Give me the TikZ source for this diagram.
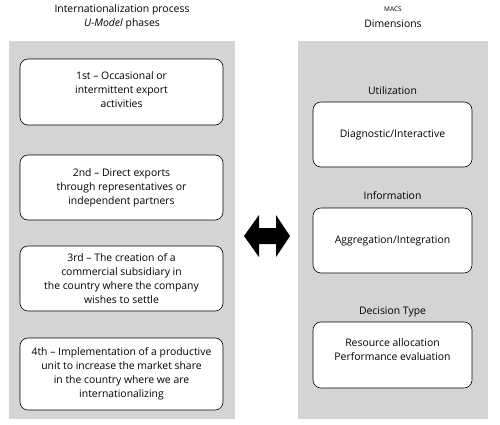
\documentclass[tikz,border=0pt]{standalone}
\usepackage{fontspec}
\setmainfont{Open Sans}
\begin{document}
\begin{tikzpicture}[x=1pt,y=-1pt,
  panel/.style={fill=black!17,draw=none},
  phase/.style={draw=black,line width=0.6pt,fill=white,rounded corners=8pt},
  txt/.style={align=center,font=\fontsize{10.4}{14}\selectfont,inner sep=0pt},
  lbl/.style={font=\fontsize{10.4}{14}\selectfont,inner sep=0pt}]
\useasboundingbox (0,0) rectangle (500,424);
% titles
\node[txt] (tl) at (122,17) {Internationalization process\\\textit{U-Model} phases};
\node[font=\fontsize{6.5}{7}\selectfont,inner sep=0pt] (macs) at (393,9) {MACS};
\node[lbl] (dim) at (393,24) {Dimensions};
% panels
\path[panel] (9,41) rectangle (235,419);
\path[panel] (298,41) rectangle (488,419);
% left boxes
\draw[phase] (20,59) rectangle (223,125);
\node[txt] (p1) at (121.5,90) {1st – Occasional or\\intermittent export\\activities};
\draw[phase] (20,155) rectangle (223,220);
\node[txt] (p2) at (121.5,187.5) {2nd – Direct exports\\through representatives or\\independent partners};
\draw[phase] (20,246) rectangle (223,311);
\node[txt] (p3) at (121.5,278.5) {3rd – The creation of a\\commercial subsidiary in\\the country where the company\\wishes to settle};
\draw[phase] (20,338) rectangle (223,410);
\node[txt] (p4) at (121.5,374) {4th – Implementation of a productive\\unit to increase the market share\\in the country where we are\\internationalizing};
% right boxes
\node[lbl] (u) at (392.5,91) {Utilization};
\draw[phase] (313,102) rectangle (472,167);
\node[txt] (d1) at (392.5,134.5) {Diagnostic/Interactive};
\node[lbl] (i) at (392.5,196) {Information};
\draw[phase] (313,208) rectangle (472,273);
\node[txt] (d2) at (392.5,240.5) {Aggregation/Integration};
\node[lbl] (dt) at (392.5,312) {Decision Type};
\draw[phase] (313,322) rectangle (472,388);
\node[txt] (d3) at (392.5,350) {Resource allocation\\Performance evaluation};
% double arrow
\fill[black] (244,236) -- (259,215) -- (259,228) -- (276,228) -- (276,215) -- (290,236)
  -- (276,257) -- (276,244) -- (259,244) -- (259,257) -- cycle;
\end{tikzpicture}
\end{document}
